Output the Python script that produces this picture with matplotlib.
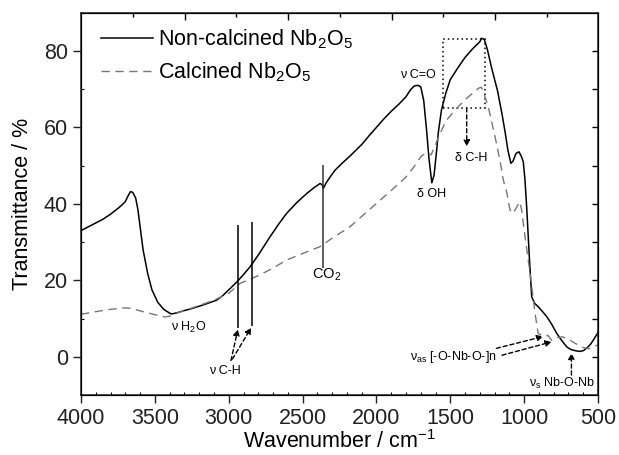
import matplotlib
matplotlib.use("Agg")
import matplotlib.pyplot as plt
from matplotlib.patches import Rectangle
from matplotlib.ticker import MultipleLocator

plt.rcParams["font.family"] = ["Liberation Sans", "DejaVu Sans"]
plt.rcParams["mathtext.default"] = "regular"

# Non-calcined Nb2O5 (solid)
wn_raw = [4000, 3950, 3900, 3850, 3800, 3750, 3720, 3700, 3680, 3665, 3650, 3630,
          3615, 3600, 3580, 3550, 3520, 3480, 3440, 3400, 3386, 3350, 3308, 3250,
          3194, 3140, 3082, 3040, 3000, 2960, 2935, 2900, 2856, 2800, 2720, 2660,
          2608, 2540, 2472, 2420, 2382, 2368, 2360, 2340, 2314, 2280, 2230, 2179,
          2100, 2050, 2000, 1950, 1900, 1850, 1800, 1770, 1745, 1720, 1700, 1680,
          1660, 1645, 1625, 1610, 1595, 1580, 1560, 1530, 1500, 1450, 1400, 1350,
          1300, 1288, 1270, 1250, 1220, 1180, 1150, 1130, 1110, 1090, 1075, 1055,
          1035, 1020, 1006, 995, 983, 965, 949, 930, 905, 880, 847, 815, 779, 745,
          712, 685, 656, 625, 599, 575, 550, 531, 515, 500]
t_raw = [33.0, 34.0, 35.0, 36.0, 37.3, 38.8, 39.8, 40.6, 42.2, 43.2, 43.0, 41.5,
         38.5, 34.0, 28.0, 22.0, 17.5, 14.2, 12.4, 11.4, 11.2, 11.5, 12.0, 12.6,
         13.3, 14.0, 14.8, 16.0, 17.5, 19.0, 20.0, 21.5, 23.5, 26.6, 31.4, 34.8,
         37.5, 40.3, 42.7, 44.3, 45.3, 45.0, 44.0, 45.5, 47.0, 48.8, 50.7, 52.5,
         55.5, 57.8, 60.0, 62.2, 64.2, 66.0, 68.0, 69.8, 70.8, 71.0, 70.6, 67.0,
         59.0, 52.0, 45.5, 47.5, 53.0, 59.0, 64.5, 69.0, 72.5, 75.5, 78.3, 80.5,
         82.4, 83.3, 83.0, 80.5, 75.5, 69.5, 63.5, 59.0, 54.0, 50.6, 51.2, 53.2,
         53.6, 52.5, 51.0, 46.5, 39.2, 26.1, 15.7, 14.0, 13.1, 12.0, 10.5, 8.6,
         6.1, 4.2, 2.6, 1.9, 1.6, 1.4, 1.6, 2.3, 3.3, 4.4, 5.4, 6.3]

# Calcined Nb2O5 (dashed)
wn_cal = [4000, 3900, 3800, 3700, 3650, 3600, 3500, 3430, 3400, 3350, 3300, 3200,
          3100, 3000, 2923, 2800, 2700, 2608, 2500, 2382, 2300, 2179, 2100, 2000,
          1900, 1800, 1750, 1700, 1660, 1630, 1600, 1570, 1525, 1457, 1389, 1310,
          1290, 1276, 1243, 1197, 1164, 1141, 1118, 1096, 1075, 1045, 1030, 1017,
          994, 960, 926, 905, 880, 859, 840, 813, 780, 740, 700, 650, 600, 560,
          530, 500]
t_cal = [11.1, 11.8, 12.4, 12.8, 12.6, 12.0, 11.0, 10.4, 10.6, 11.4, 12.1, 13.4,
         14.8, 16.6, 19.2, 21.2, 23.2, 25.3, 27.0, 28.8, 31.0, 34.0, 36.7, 40.1,
         43.5, 47.0, 49.5, 52.3, 53.5, 52.8, 55.5, 58.4, 61.9, 65.0, 67.6, 70.2,
         70.5, 69.3, 65.4, 57.5, 51.4, 46.2, 43.0, 38.4, 37.5, 39.5, 40.5, 38.4,
         31.4, 21.8, 11.3, 6.1, 5.6, 5.3, 5.6, 4.3, 5.0, 5.2, 4.6, 3.4, 2.4,
         2.1, 2.6, 3.1]

series_labels = ["Non-calcined Nb$_2$O$_5$", "Calcined Nb$_2$O$_5$"]
top_minor = [3648, 2948, 2248, 1548, 848]
top_major = [3298, 2598, 1898, 1198]

fig = plt.figure(figsize=(6.19, 4.55), dpi=100)
ax = fig.add_axes([0.1309, 0.1319, 0.8352, 0.8403])

ax.plot(wn_raw, t_raw, color="black", lw=1.1, label=series_labels[0])
ax.plot(wn_cal, t_cal, color="#777777", lw=1.0, dashes=(6, 4), label=series_labels[1])

ax.set_xlim(4000, 500)
ax.set_ylim(-10, 90)
ax.xaxis.set_major_locator(MultipleLocator(500))
ax.xaxis.set_minor_locator(MultipleLocator(100))
ax.yaxis.set_major_locator(MultipleLocator(20))
ax.yaxis.set_minor_locator(MultipleLocator(10))
ax.tick_params(which="major", direction="out", length=6, width=1, labelsize=15.5,
               colors="#222222")
ax.tick_params(which="minor", direction="in", length=2.5, width=0.8)
for s in ax.spines.values():
    s.set_linewidth(1.1)
    s.set_color("#222222")

# top and right decorations
ax2 = ax.twiny()
ax2.set_xlim(ax.get_xlim())
ax2.set_xticks(top_major)
ax2.set_xticks(top_minor, minor=True)
ax2.tick_params(which="major", direction="in", length=5, width=1, labeltop=False)
ax2.tick_params(which="minor", direction="in", length=3, width=1)
ax3 = ax.twinx()
ax3.set_ylim(ax.get_ylim())
ax3.set_yticks(range(0, 90, 10))
ax3.tick_params(direction="in", length=4.5, width=1, labelright=False)

ax.set_xlabel("Wavenumber / cm$^{-1}$", fontsize=15.5, labelpad=1)
ax.set_ylabel("Transmittance / %", fontsize=15.5, labelpad=8)

ax.legend(loc="upper left", frameon=False, fontsize=15.5, handlelength=2.4,
          handletextpad=0.25, labelspacing=0.42, borderaxespad=0.3,
          bbox_to_anchor=(0.01, 1.0))

# band markers
ax.vlines([2935, 2845], [7.4, 8.0], [34.4, 35.3], color="black", lw=1.1)
ax.vlines([2364], [23.1], [50.1], color="#333333", lw=1.1)
ax.add_patch(Rectangle((1551, 65.1), 1265 - 1551, 83.2 - 65.1, fill=False,
                       ls=(0, (1, 2)), lw=1.1, color="black"))

fs = 9
ax.text(1717, 73.6, "ν C=O", fontsize=fs, ha="center", va="center")
ax.text(1626, 42.5, "δ OH", fontsize=fs, ha="center", va="center")
ax.text(1360, 51.9, "δ C-H", fontsize=fs, ha="center", va="center")
ax.text(2337, 21.5, "CO$_2$", fontsize=10.5, ha="center", va="center")
ax.text(3269, 7.7, "ν H$_2$O", fontsize=fs, ha="center", va="center")
ax.text(3025, -3.6, "ν C-H", fontsize=fs, ha="center", va="center")
ax.text(1183, 0.0, "ν$_{as}$ [-O-Nb-O-]n", fontsize=fs, ha="right", va="center")
ax.text(519, -7.0, "ν$_s$ Nb-O-Nb", fontsize=fs, ha="right", va="center")

arr = dict(arrowstyle="-|>", linestyle=(0, (3, 2)), lw=1.0, color="black",
           mutation_scale=9, shrinkA=0, shrinkB=0)
ax.annotate("", xy=(1389, 55.0), xytext=(1389, 65.1), arrowprops=arr)
ax.annotate("", xy=(2938, 7.2), xytext=(2985, -1.0), arrowprops=arr)
ax.annotate("", xy=(2848, 7.6), xytext=(2975, -0.6), arrowprops=arr)
ax.annotate("", xy=(871, 5.3), xytext=(1188, 2.2), arrowprops=arr)
ax.annotate("", xy=(814, 3.9), xytext=(1150, 0.4), arrowprops=arr)
ax.annotate("", xy=(680, 1.0), xytext=(680, -4.8), arrowprops=arr)

fig.savefig("out.png", dpi=100)
